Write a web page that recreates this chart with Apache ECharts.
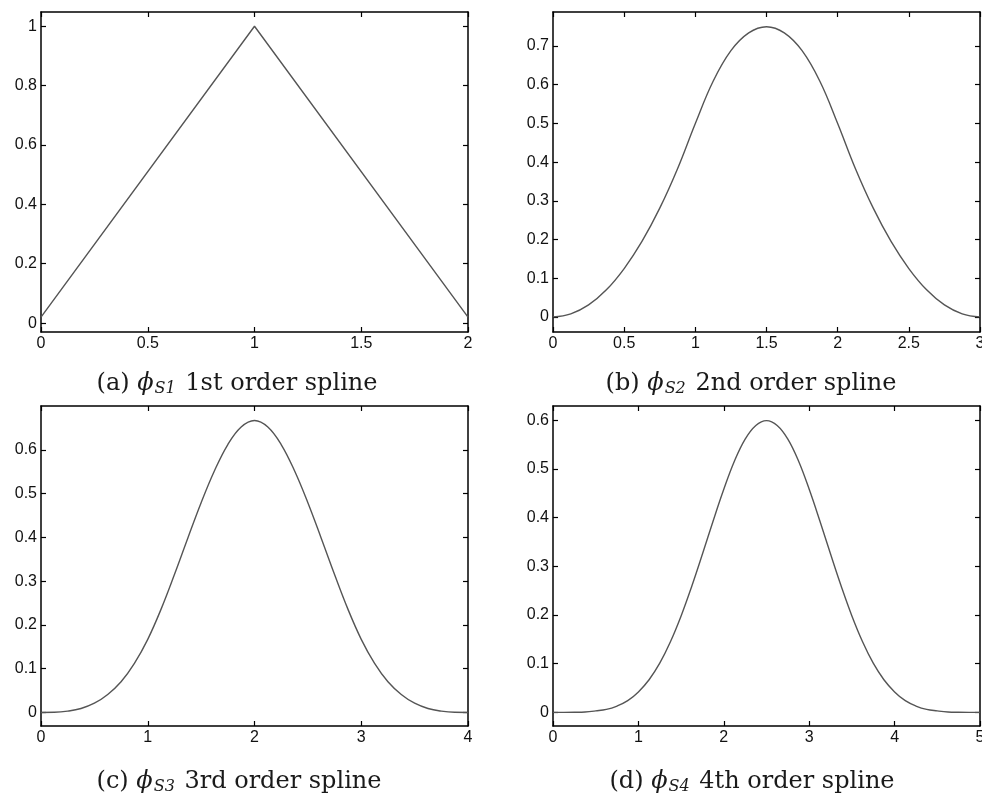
<!DOCTYPE html>
<html>
<head>
<meta charset="utf-8">
<script src="https://cdn.jsdelivr.net/npm/echarts@6/dist/echarts.min.js"></script>
<style>
  html, body { margin: 0; padding: 0; background: #fff; }
  #chart { width: 982px; height: 795px; }
</style>
</head>
<body>
<div id="chart"></div>
<script>
// values
const xS1 = [0, 1, 2];
const yS1 = [0.02, 1, 0.02];

const xS2 = [0, 0.125, 0.25, 0.375, 0.5, 0.625, 0.75, 0.875, 1, 1.125, 1.25, 1.375, 1.5,
  1.625, 1.75, 1.875, 2, 2.125, 2.25, 2.375, 2.5, 2.625, 2.75, 2.875, 3];
const yS2 = [0, 0.008, 0.031, 0.070, 0.125, 0.195, 0.281, 0.383, 0.5, 0.609, 0.688, 0.734, 0.75,
  0.734, 0.688, 0.609, 0.5, 0.383, 0.281, 0.195, 0.125, 0.070, 0.031, 0.008, 0];

const xS3 = [0, 0.125, 0.25, 0.375, 0.5, 0.625, 0.75, 0.875, 1, 1.125, 1.25, 1.375, 1.5, 1.625, 1.75, 1.875, 2,
  2.125, 2.25, 2.375, 2.5, 2.625, 2.75, 2.875, 3, 3.125, 3.25, 3.375, 3.5, 3.625, 3.75, 3.875, 4];
const yS3 = [0, 0.0003, 0.003, 0.009, 0.021, 0.041, 0.070, 0.112, 0.167, 0.236, 0.315, 0.398, 0.479, 0.552, 0.612, 0.652, 0.667,
  0.652, 0.612, 0.552, 0.479, 0.398, 0.315, 0.236, 0.167, 0.112, 0.070, 0.041, 0.021, 0.009, 0.003, 0.0003, 0];

const xS4 = [0, 0.125, 0.25, 0.375, 0.5, 0.625, 0.75, 0.875, 1, 1.125, 1.25, 1.375, 1.5, 1.625, 1.75, 1.875, 2,
  2.125, 2.25, 2.375, 2.5, 2.625, 2.75, 2.875, 3, 3.125, 3.25, 3.375, 3.5, 3.625, 3.75, 3.875, 4,
  4.125, 4.25, 4.375, 4.5, 4.625, 4.75, 4.875, 5];
const yS4 = [0, 0.00001, 0.0002, 0.0008, 0.003, 0.006, 0.013, 0.024, 0.042, 0.067, 0.101, 0.145, 0.198, 0.259, 0.325, 0.393, 0.458,
  0.516, 0.561, 0.589, 0.599, 0.589, 0.561, 0.516, 0.458, 0.393, 0.325, 0.259, 0.198, 0.145, 0.101, 0.067, 0.042,
  0.024, 0.013, 0.006, 0.003, 0.0008, 0.0002, 0.00001, 0];

// tick labels
const xTicksA = [0, 0.5, 1, 1.5, 2];
const yTicksA = [0, 0.2, 0.4, 0.6, 0.8, 1];
const xTicksB = [0, 0.5, 1, 1.5, 2, 2.5, 3];
const yTicksB = [0, 0.1, 0.2, 0.3, 0.4, 0.5, 0.6, 0.7];
const xTicksC = [0, 1, 2, 3, 4];
const yTicksC = [0, 0.1, 0.2, 0.3, 0.4, 0.5, 0.6];
const xTicksD = [0, 1, 2, 3, 4, 5];
const yTicksD = [0, 0.1, 0.2, 0.3, 0.4, 0.5, 0.6];

const captions = [
  ['(a) ', 'S1', ' 1st order spline'],
  ['(b) ', 'S2', ' 2nd order spline'],
  ['(c) ', 'S3', ' 3rd order spline'],
  ['(d) ', 'S4', ' 4th order spline']
];

const panels = [
  { grid: { left: 41, top: 12, width: 427, height: 320 }, xMax: 2, yMin: -0.03, yMax: 1.048, xt: xTicksA, yt: yTicksA, xs: xS1, ys: yS1, smooth: false, cap: [237, 384] },
  { grid: { left: 553, top: 12, width: 427, height: 320 }, xMax: 3, yMin: -0.039, yMax: 0.788, xt: xTicksB, yt: yTicksB, xs: xS2, ys: yS2, smooth: 0.4, cap: [751, 384] },
  { grid: { left: 41, top: 406, width: 427, height: 320 }, xMax: 4, yMin: -0.031, yMax: 0.70, xt: xTicksC, yt: yTicksC, xs: xS3, ys: yS3, smooth: 0.4, cap: [239, 782] },
  { grid: { left: 553, top: 406, width: 427, height: 320 }, xMax: 5, yMin: -0.028, yMax: 0.629, xt: xTicksD, yt: yTicksD, xs: xS4, ys: yS4, smooth: 0.4, cap: [752, 782] }
];

const boxLine = { color: '#000', width: 1.5 };
const tickStyle = { color: '#000', width: 1.2 };
const labelStyle = { color: '#111', fontSize: 16, fontFamily: 'Liberation Sans, Arial, sans-serif' };

const grids = [], xAxes = [], yAxes = [], series = [], graphics = [];

panels.forEach((p, i) => {
  grids.push(Object.assign({ containLabel: false, outerBoundsMode: 'none' }, p.grid));
  ['bottom', 'top'].forEach((pos, k) => {
    xAxes.push({
      type: 'value', gridIndex: i, position: pos, min: 0, max: p.xMax,
      axisLine: { show: true, onZero: false, lineStyle: boxLine },
      axisTick: { show: true, inside: true, length: 5, lineStyle: tickStyle, customValues: p.xt },
      axisLabel: Object.assign({ show: k === 0, margin: 4, customValues: p.xt, hideOverlap: false }, labelStyle),
      splitLine: { show: false }
    });
  });
  ['left', 'right'].forEach((pos, k) => {
    yAxes.push({
      type: 'value', gridIndex: i, position: pos, min: p.yMin, max: p.yMax,
      axisLine: { show: true, onZero: false, lineStyle: boxLine },
      axisTick: { show: true, inside: true, length: 5, lineStyle: tickStyle, customValues: p.yt },
      axisLabel: Object.assign({ show: k === 0, margin: 4, customValues: p.yt }, labelStyle),
      splitLine: { show: false }
    });
  });
  series.push({
    type: 'line',
    xAxisIndex: 2 * i,
    yAxisIndex: 2 * i,
    data: p.xs.map((x, j) => [x, p.ys[j]]),
    smooth: p.smooth,
    showSymbol: false,
    lineStyle: { color: '#555', width: 1.4 },
    silent: true
  });
  const c = captions[i];
  graphics.push({
    type: 'text',
    x: p.cap[0],
    y: p.cap[1],
    style: {
      text: c[0] + '{phi|ϕ}{sub|' + c[1] + '}' + c[2],
      align: 'center',
      verticalAlign: 'middle',
      fill: '#1a1a1a',
      font: '24px "DejaVu Serif", serif',
      rich: {
        phi: { fontFamily: 'DejaVu Serif', fontStyle: 'italic', fontSize: 24, fill: '#1a1a1a' },
        sub: { fontFamily: 'DejaVu Serif', fontStyle: 'italic', fontSize: 16, fill: '#1a1a1a', padding: [10, 2, 0, 1] }
      }
    }
  });
});

const chart = echarts.init(document.getElementById('chart'));
chart.setOption({
  animation: false,
  backgroundColor: '#fff',
  grid: grids,
  xAxis: xAxes,
  yAxis: yAxes,
  series: series,
  graphic: graphics
});
</script>
</body>
</html>
